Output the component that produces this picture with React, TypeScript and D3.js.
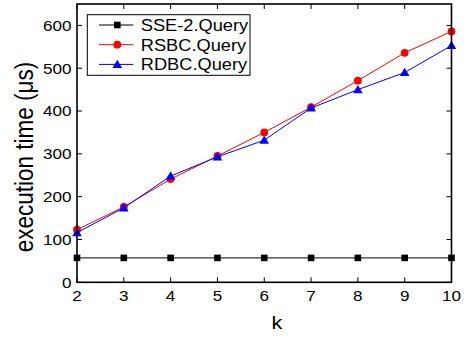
import * as d3 from 'd3';

// chart values
const ks = [2, 3, 4, 5, 6, 7, 8, 9, 10]
const sse2 = [57, 57, 57, 57, 57, 57, 57, 57, 57]
const rsbc = [123, 176, 241, 295, 350, 409, 471, 536, 586]
const rdbc = [116, 174, 248, 293, 332, 407, 450, 490, 553]
const seriesNames = ['SSE-2.Query', 'RSBC.Query', 'RDBC.Query']
const seriesColors = ['#000000', '#ff0000', '#0000ff']
const yTicks = [0, 100, 200, 300, 400, 500, 600]

const W = 468
const H = 340
const margin = { top: 4, right: 16.5, bottom: 57.7, left: 77 }
const plotW = W - margin.left - margin.right
const plotH = H - margin.top - margin.bottom

const font = '"Liberation Sans", Arial, sans-serif'
const sx = 1.14 // the source picture is a little wider than tall

const x = d3.scaleLinear().domain([2, 10]).range([0, plotW])
const y = d3.scaleLinear().domain([0, 650]).range([plotH, 0])

const Marker = ({ kind, cx, cy, color }: { kind: number, cx: number, cy: number, color: string }) => {
  if (kind === 0) return <rect x={cx - 3.3} y={cy - 3.3} width={6.6} height={6.6} fill={color} />
  if (kind === 1) return <circle cx={cx} cy={cy} r={3.9} fill={color} />
  const p = d3.symbol(d3.symbolTriangle, 40)()
  return <path d={p ?? ''} transform={`translate(${cx},${cy + 0.8})`} fill={color} />
}

const Label = ({ x: tx, y: ty, size, anchor, rot, children }: any) => (
  <text
    transform={`translate(${tx},${ty}) scale(${sx},1)${rot ? ` rotate(${rot})` : ''}`}
    fontSize={size}
    fontFamily={font}
    textAnchor={anchor}
    fill="#000"
  >{children}</text>
)

const App = () => {
  const series = [sse2, rsbc, rdbc]
  const line = d3.line<number>().x((_, i) => x(ks[i])).y(d => y(d))
  const tick = 5

  return (
    <svg width={W} height={H} style={{ position: 'absolute', left: 0, top: 0, background: '#fff' }}>
      <g transform={`translate(${margin.left},${margin.top})`}>
        {/* ticks, inward on all four sides */}
        {ks.map(k => (
          <g key={'xt' + k} stroke="#000" strokeWidth={1}>
            <line x1={x(k)} x2={x(k)} y1={plotH} y2={plotH - tick} />
            <line x1={x(k)} x2={x(k)} y1={0} y2={tick} />
          </g>
        ))}
        {yTicks.map(v => (
          <g key={'yt' + v} stroke="#000" strokeWidth={1}>
            <line x1={0} x2={tick} y1={y(v)} y2={y(v)} />
            <line x1={plotW} x2={plotW - tick} y1={y(v)} y2={y(v)} />
          </g>
        ))}

        {/* series */}
        {series.map((s, si) => (
          <g key={'s' + si}>
            <path d={line(s) ?? ''} fill="none" stroke={seriesColors[si]} strokeWidth={1} />
            {s.map((v, i) => (
              <Marker key={i} kind={si} cx={x(ks[i])} cy={y(v)} color={seriesColors[si]} />
            ))}
          </g>
        ))}

        <rect x={0} y={0} width={plotW} height={plotH} fill="none" stroke="#000" strokeWidth={1.6} />

        {/* tick labels */}
        {ks.map(k => (
          <Label key={'xl' + k} x={x(k)} y={plotH + 18.5} size={15} anchor="middle">{k}</Label>
        ))}
        {yTicks.map(v => (
          <Label key={'yl' + v} x={-5.5} y={y(v) + 5.4} size={15} anchor="end">{v}</Label>
        ))}

        {/* legend */}
        <g transform="translate(10.3,10.7)">
          <rect x={0} y={0} width={162.7} height={60.6} fill="#fff" stroke="#000" strokeWidth={1} />
          {seriesNames.map((name, i) => {
            const ly = 10.3 + i * 19.7
            return (
              <g key={name}>
                <line x1={11.7} x2={46} y1={ly} y2={ly} stroke={seriesColors[i]} strokeWidth={1} />
                <Marker kind={i} cx={30} cy={ly} color={seriesColors[i]} />
                <Label x={53.5} y={ly + 5.8} size={16} anchor="start">{name}</Label>
              </g>
            )
          })}
        </g>
      </g>

      {/* axis titles */}
      <Label x={277} y={329} size={19} anchor="middle">k</Label>
      <Label x={32.5} y={157} size={22.5} anchor="middle" rot={-90}>execution time (μs)</Label>
    </svg>
  )
}

export default App;
